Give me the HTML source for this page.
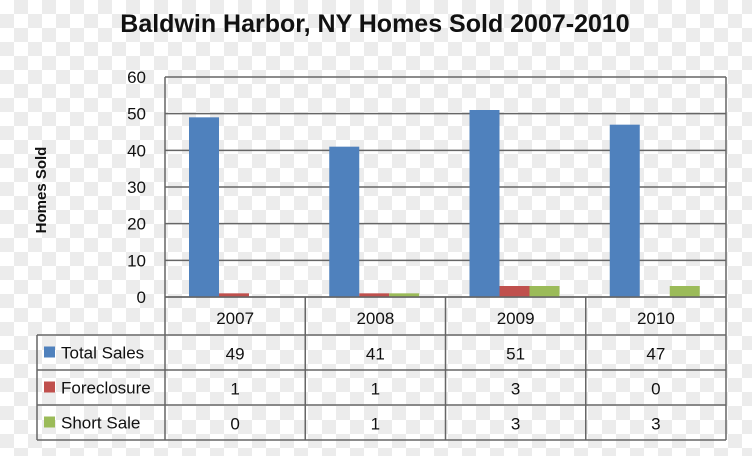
<!DOCTYPE html>
<html><head><meta charset="utf-8"><style>
html,body{margin:0;padding:0}
body{width:752px;height:451px;overflow:hidden;font-family:"Liberation Sans",sans-serif;
background-color:#fff;background-image:linear-gradient(45deg,#ececec 25%,transparent 25%,transparent 75%,#ececec 75%),linear-gradient(45deg,#ececec 25%,transparent 25%,transparent 75%,#ececec 75%);background-size:28px 28px;background-position:0 0,14px 14px}
</style></head><body>
<svg id="c" width="752" height="451" xmlns="http://www.w3.org/2000/svg"></svg>
<script>
const categories=["2007","2008","2009","2010"];
const totalSales=[49,41,51,47];
const foreclosure=[1,1,3,0];
const shortSale=[0,1,3,3];
const seriesNames=["Total Sales","Foreclosure","Short Sale"];
const yTicks=[0,10,20,30,40,50,60];
const colors=["#4f81bd","#c0504d","#9bbb59"];
const series=[totalSales,foreclosure,shortSale];
const svg=document.getElementById('c');
const NS="http://www.w3.org/2000/svg";
const L=165,R=726,T=77,B=297,yMax=60;
const colW=(R-L)/categories.length;
const y=v=>B-(v/yMax)*(B-T);
const x=i=>L+i*colW;
function mk(tag,attrs,txt){const e=document.createElementNS(NS,tag);for(const k in attrs)e.setAttribute(k,attrs[k]);if(txt!==undefined)e.textContent=txt;svg.appendChild(e);return e;}
let t=mk('text',{x:375,y:32,'text-anchor':'middle','font-size':25,'font-weight':'bold',fill:'#111'},"Baldwin Harbor, NY Homes Sold 2007-2010");


t=mk('text',{x:0,y:0,transform:'translate(46,190) rotate(-90)','text-anchor':'middle','font-size':15,'font-weight':'bold',fill:'#111'},"Homes Sold");


yTicks.forEach(v=>{
 const g=mk('line',{x1:L,x2:R,y1:y(v),y2:y(v),stroke:'#666','stroke-width':1.5});
 
 
 const tl=mk('text',{x:146,y:y(v)+6,'text-anchor':'end','font-size':17,fill:'#111'},String(v));
 
 
});
const bw=30,off=24;
series.forEach((s,si)=>{s.forEach((v,i)=>{
 const h=B-y(v);if(h<=0)return;
 const r=mk('rect',{x:x(i)+off+si*bw,y:y(v),width:bw,height:h,fill:colors[si]});
 
 
});});
const rows=[297,335,370,405,440];
const st={stroke:'#666','stroke-width':1.5};
let e=mk('line',Object.assign({x1:L,x2:L,y1:T,y2:rows[4]},st));

e=mk('line',Object.assign({x1:R,x2:R,y1:T,y2:rows[4]},st));

for(let i=1;i<categories.length;i++){e=mk('line',Object.assign({x1:x(i),x2:x(i),y1:B,y2:rows[4]},st));
}
e=mk('line',Object.assign({x1:37,x2:37,y1:rows[1],y2:rows[4]},st));

rows.forEach((ry,ri)=>{e=mk('line',Object.assign({x1:ri===0?L:37,x2:R,y1:ry,y2:ry},st));
});
categories.forEach((c,i)=>{e=mk('text',{x:x(i)+colW/2,y:324,'text-anchor':'middle','font-size':17,fill:'#111'},c);
});
series.forEach((s,si)=>{
 const cy=(rows[si+1]+rows[si+2])/2;
 e=mk('rect',{x:44,y:cy-6,width:11,height:11,fill:colors[si]});
 
 e=mk('text',{x:61,y:cy+6,'font-size':17,fill:'#111'},seriesNames[si]);
 
 s.forEach((v,i)=>{e=mk('text',{x:x(i)+colW/2,y:cy+7,'text-anchor':'middle','font-size':17,fill:'#111'},String(v));
 });
});
</script>
</body></html>
